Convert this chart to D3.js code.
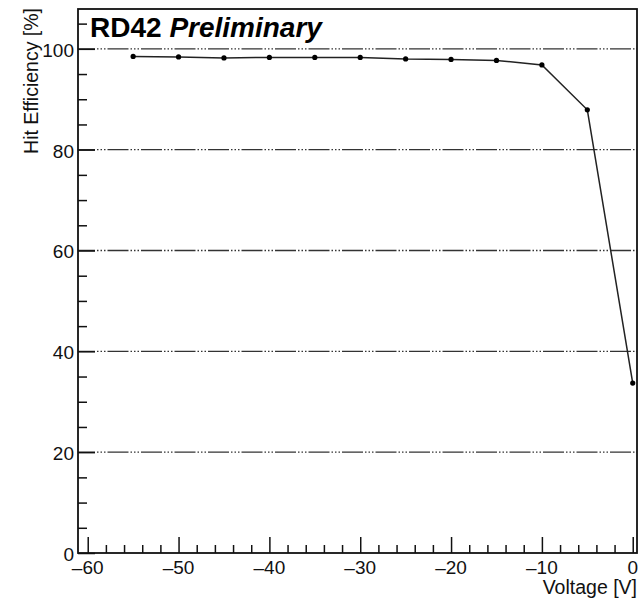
<!DOCTYPE html>
<html>
<head>
<meta charset="utf-8">
<script src="https://cdn.jsdelivr.net/npm/d3@7"></script>
<style>
  html, body { margin: 0; padding: 0; background: #fff; }
  svg { display: block; font-family: "Liberation Sans", Arial, Helvetica, sans-serif; }
</style>
</head>
<body>
<svg id="chart" width="641" height="600"></svg>
<script>
// Bias voltage scan: hit efficiency versus applied voltage
const voltages = [-55, -50, -45, -40, -35, -30, -25, -20, -15, -10, -5, 0];
const efficiency = [98.5, 98.4, 98.2, 98.3, 98.3, 98.3, 98.0, 97.9, 97.7, 96.8, 87.9, 33.7];

const xMajorTicks = [-60, -50, -40, -30, -20, -10, 0];
const yMajorTicks = [0, 20, 40, 60, 80, 100];
const gridValues = [20, 40, 60, 80, 100];

const svg = d3.select("#chart");
const frame = { left: 78, right: 637, top: 9, bottom: 553 };

const x = d3.scaleLinear().domain([-61.07, 0.47]).range([frame.left, frame.right]);
const y = d3.scaleLinear().domain([0, 107.9]).range([frame.bottom, frame.top]);

const xMinor = d3.range(-60, 0.001, 2).filter(v => !xMajorTicks.includes(v));
const yMinor = d3.range(0, 107.9, 5).filter(v => !yMajorTicks.includes(v));

// Dash-dot grid lines
svg.append("g").selectAll("line").data(gridValues).join("line")
  .attr("x1", frame.left).attr("x2", frame.right)
  .attr("y1", d => y(d)).attr("y2", d => y(d))
  .attr("stroke", "#333").attr("stroke-width", 1.4)
  .attr("stroke-dasharray", "21,2,1.5,2,1.5,2,1.5,2")
  .attr("stroke-dashoffset", 4);

// Bottom axis (ticks pointing inward)
const xAxis = d3.axisTop(x).tickValues(xMajorTicks).tickSize(16).tickFormat("");
const xAxisMinor = d3.axisTop(x).tickValues(xMinor).tickSize(8).tickFormat("");
[xAxis, xAxisMinor].forEach(ax => {
  const g = svg.append("g").attr("transform", `translate(0,${frame.bottom})`).call(ax);
  g.select(".domain").remove();
  g.selectAll(".tick line").attr("stroke", "#111").attr("stroke-width", 1.5);
});

// Left axis (ticks pointing inward)
const yAxis = d3.axisRight(y).tickValues(yMajorTicks).tickSize(17).tickFormat("");
const yAxisMinor = d3.axisRight(y).tickValues(yMinor).tickSize(9).tickFormat("");
[yAxis, yAxisMinor].forEach(ax => {
  const g = svg.append("g").attr("transform", `translate(${frame.left},0)`).call(ax);
  g.select(".domain").remove();
  g.selectAll(".tick line").attr("stroke", "#111").attr("stroke-width", 1.5);
});

// Tick labels
const fmt = v => (v < 0 ? "\u2013" + Math.abs(v) : String(v));
svg.append("g").selectAll("text").data(xMajorTicks).join("text")
  .attr("x", d => x(d)).attr("y", 574)
  .attr("text-anchor", "middle")
  .attr("font-size", 19).attr("fill", "#111")
  .text(fmt);

svg.append("g").selectAll("text").data(yMajorTicks).join("text")
  .attr("x", 74).attr("y", d => y(d) + 8)
  .attr("text-anchor", "end")
  .attr("font-size", 19).attr("fill", "#111")
  .text(fmt);

// Frame
svg.append("rect")
  .attr("x", frame.left).attr("y", frame.top)
  .attr("width", frame.right - frame.left).attr("height", frame.bottom - frame.top)
  .attr("fill", "none").attr("stroke", "#111").attr("stroke-width", 1.8);

// Data line and markers
const pts = voltages.map((v, i) => [v, efficiency[i]]);
svg.append("path")
  .datum(pts)
  .attr("d", d3.line().x(d => x(d[0])).y(d => y(d[1])))
  .attr("fill", "none").attr("stroke", "#222").attr("stroke-width", 1.5);

svg.append("g").selectAll("circle").data(pts).join("circle")
  .attr("cx", d => x(d[0])).attr("cy", d => y(d[1]))
  .attr("r", 2.6).attr("fill", "#000");

// Axis titles
svg.append("text")
  .attr("x", frame.right).attr("y", 594)
  .attr("text-anchor", "end")
  .attr("font-size", 19.5).attr("fill", "#111")
  .text("Voltage [V]");

svg.append("text")
  .attr("transform", "translate(38,8) rotate(-90)")
  .attr("text-anchor", "end")
  .attr("font-size", 19.5).attr("fill", "#111")
  .text("Hit Efficiency [%]");

// Header label
const header = svg.append("text")
  .attr("x", 90).attr("y", 37)
  .attr("font-size", 28).attr("fill", "#000");
header.append("tspan").attr("font-weight", "bold").text("RD42 ");
header.append("tspan").attr("font-weight", "bold").attr("font-style", "italic").text("Preliminary");
</script>
</body>
</html>
